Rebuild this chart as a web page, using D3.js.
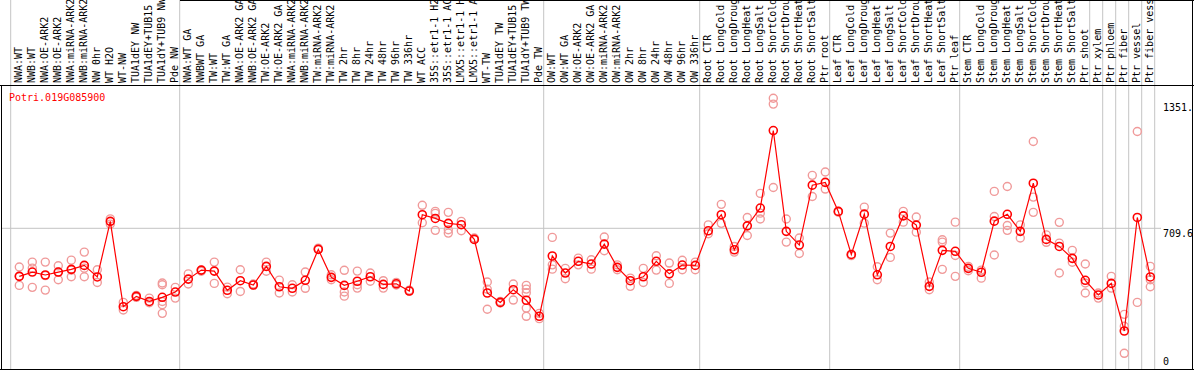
<!DOCTYPE html>
<html>
<head>
<meta charset="utf-8">
<script src="https://cdn.jsdelivr.net/npm/d3@7"></script>
<style>
body { margin: 0; background: #fff; }
text { font-family: "DejaVu Sans Mono", monospace; font-size: 10px; }
</style>
</head>
<body>
<svg width="1194" height="370"></svg>
<script>
var geneName = "Potri.019G085900";

var samples = [
    "NWA:WT", "NWB:WT", "NWA:OE-ARK2", "NWB:OE-ARK2", "NWA:miRNA-ARK2", "NWB:miRNA-ARK2",
    "NW 0hr", "WT H2O", "WT-NW", "TUA1dEY NW", "TUA1dEY+TUB15", "TUA1dY+TUB9 NW", "Pde NW",
    "NWA:WT GA", "NWBWT GA", "TW:WT", "TW:WT GA", "NWA:OE-ARK2 GA", "NWB:OE-ARK2 GA",
    "TW:OE-ARK2", "TW:OE-ARK2 GA", "NWA:miRNA-ARK2", "NWB:miRNA-ARK2", "TW:miRNA-ARK2",
    "TW:miRNA-ARK2", "TW 2hr", "TW 8hr", "TW 24hr", "TW 48hr", "TW 96hr", "TW 336hr",
    "WT ACC", "35S::etr1-1 H2O", "35S::etr1-1 ACC", "LMX5::etr1-1 H2O", "LMX5::etr1-1 ACC",
    "WT-TW", "TUA1dEY TW", "TUA1dEY+TUB15", "TUA1dY+TUB9 TW", "Pde TW",
    "OW:WT", "OW:WT GA", "OW:OE-ARK2", "OW:OE-ARK2 GA", "OW:miRNA-ARK2", "OW:miRNA-ARK2",
    "OW 2hr", "OW 8hr", "OW 24hr", "OW 48hr", "OW 96hr", "OW 336hr",
    "Root CTR", "Root LongCold", "Root LongDrought", "Root LongHeat", "Root LongSalt",
    "Root ShortCold", "Root ShortDrought", "Root ShortHeat", "Root ShortSalt", "Ptr root",
    "Leaf CTR", "Leaf LongCold", "Leaf LongDrought", "Leaf LongHeat", "Leaf LongSalt",
    "Leaf ShortCold", "Leaf ShortDrought", "Leaf ShortHeat", "Leaf ShortSalt", "Ptr leaf",
    "Stem CTR", "Stem LongCold", "Stem LongDrought", "Stem LongHeat", "Stem LongSalt",
    "Stem ShortCold", "Stem ShortDrought", "Stem ShortHeat", "Stem ShortSalt", "Ptr shoot",
    "Ptr xylem", "Ptr phloem", "Ptr fiber", "Ptr vessel", "Ptr fiber vessel"
];

// mean expression per sample
var means = [
    464, 486, 471, 486, 500, 520, 461, 745, 309, 362, 336, 357, 384,
    450, 496, 491, 393, 442, 420, 515, 411, 403, 444, 602, 459, 418, 439, 462, 423, 426, 389,
    779, 760, 735, 728, 653, 379, 331, 396, 342, 260,
    568, 481, 541, 527, 629, 510, 442, 462, 541, 477, 522, 520,
    697, 779, 600, 722, 813, 1209, 694, 624, 930, 944,
    796, 576, 782, 472, 617, 773, 726, 413, 597, 592,
    505, 485, 746, 781, 694, 940, 653, 617, 556, 444,
    369, 428, 185, 765, 461
];

// replicate values per sample
var reps = [
    [512, 418, 465], [537, 506, 408], [537, 468, 394], [518, 447, 486], [547, 462, 496],
    [588, 506, 462], [498, 433], [758, 731], [331, 292], [367, 357], [353, 329],
    [430, 421, 336, 319, 275], [408, 353],
    [477, 425], [496, 490], [537, 428], [409, 375], [498, 387], [420, 425], [537, 490],
    [445, 379], [421, 384], [486, 403], [602, 608], [472, 447], [495, 384, 363],
    [491, 421, 404], [481, 439], [442, 404], [433, 420], [389, 394],
    [827, 738], [796, 786, 699], [791, 702, 685], [745, 697], [653, 660],
    [435, 398, 296], [336, 328], [425, 343], [418, 399, 380, 302, 260], [275, 248],
    [663, 523, 501], [505, 452], [557, 523], [549, 501], [665, 595], [523, 498],
    [455, 413], [505, 433], [569, 496], [532, 428], [546, 498], [537, 498],
    [727, 682], [832, 735], [617, 588], [765, 673], [888, 787, 757],
    [1374, 1344, 918], [757, 639], [660, 581], [980, 872], [997, 910],
    [796, 792], [576, 570], [818, 736], [513, 447], [685, 561],
    [796, 741], [767, 690], [435, 396], [651, 639, 500], [741, 571, 464],
    [515, 493], [455, 496], [898, 770, 573], [923, 724, 699], [727, 660],
    [1153, 869, 791], [676, 638], [740, 634, 481], [597, 536], [527, 430, 379],
    [379, 353], [464, 404], [270, 209, 71], [1204, 331], [515, 447, 411]
];

// column index where each sample group starts
var headerBreaks = [0, 13, 41, 53, 63, 73, 83, 84, 85, 86, 87, 88];
var plotBreaks = [0, 13, 41, 53, 63, 73, 84, 85, 86, 87, 88];

var tickValues = [0, 709.6, 1351.2];
var tickLabels = ["0", "709.6", "1351."];

var svg = d3.select("svg"),
    W = +svg.attr("width"),
    H = +svg.attr("height"),
    headerH = 85,
    bottom = 369;

var idx = d3.range(samples.length);
var x = d3.scaleBand().domain(idx).range([10.7, 10.7 + 13 * samples.length]);
var xEdge = function(k) { return 10.7 + k * x.step(); };
var px = function(i) { return x(i) + 8.6; };

var y = d3.scaleLinear().domain([0, 709.6]).range([367.2, 228.3]);

// header separators
svg.append("g").selectAll("line")
    .data(headerBreaks).enter().append("line")
    .attr("x1", xEdge).attr("x2", xEdge)
    .attr("y1", 0).attr("y2", headerH)
    .attr("stroke", "#c4c4c4");

// plot separators
svg.append("g").selectAll("line")
    .data(plotBreaks).enter().append("line")
    .attr("x1", xEdge).attr("x2", xEdge)
    .attr("y1", headerH).attr("y2", bottom)
    .attr("stroke", "#c4c4c4");

// horizontal grid at middle tick
svg.append("line")
    .attr("x1", 2).attr("x2", 1161)
    .attr("y1", y(tickValues[1])).attr("y2", y(tickValues[1]))
    .attr("stroke", "#c4c4c4");

// sample labels, rotated
svg.append("g").selectAll("text")
    .data(samples).enter().append("text")
    .attr("transform", function(d, i) {
        return "translate(" + (xEdge(i) + 11.5) + ",83) rotate(-90)";
    })
    .attr("fill", "#000")
    .text(function(d) { return d; });

// borders
svg.append("line").attr("x1", 0).attr("x2", W).attr("y1", headerH + 0.5).attr("y2", headerH + 0.5).attr("stroke", "#000");
svg.append("line").attr("x1", 180).attr("x2", W).attr("y1", 0.5).attr("y2", 0.5).attr("stroke", "#000");
svg.append("line").attr("x1", 0).attr("x2", W).attr("y1", bottom + 0.5).attr("y2", bottom + 0.5).attr("stroke", "#000");
svg.append("line").attr("x1", 1.5).attr("x2", 1.5).attr("y1", headerH).attr("y2", H).attr("stroke", "#000");
svg.append("line").attr("x1", W - 1.5).attr("x2", W - 1.5).attr("y1", 0).attr("y2", H).attr("stroke", "#000");

// y axis on the right
var yAxis = svg.append("g")
    .attr("transform", "translate(1160,0)")
    .call(d3.axisRight(y).tickValues(tickValues).tickSize(0)
        .tickFormat(function(d, i) { return tickLabels[i]; }));
yAxis.select(".domain").remove();
yAxis.selectAll("text")
    .attr("x", 3)
    .attr("dy", function(d) { return d == 0 ? "-0.25em" : "0.8em"; })
    .attr("fill", "#000")
    .style("font-family", "\"DejaVu Sans Mono\", monospace")
    .style("font-size", "10px");

// replicates
var repPts = [];
reps.forEach(function(r, i) {
    r.forEach(function(v) { repPts.push({i: i, v: v}); });
});
svg.append("g").selectAll("circle")
    .data(repPts).enter().append("circle")
    .attr("cx", function(d) { return px(d.i); })
    .attr("cy", function(d) { return y(d.v); })
    .attr("r", 4)
    .attr("fill", "none")
    .attr("stroke", "#f09a9a")
    .attr("stroke-width", 1.4);

// mean line
var line = d3.line()
    .x(function(d, i) { return px(i); })
    .y(function(d) { return y(d); });
svg.append("path")
    .datum(means)
    .attr("d", line)
    .attr("fill", "none")
    .attr("stroke", "#f00")
    .attr("stroke-width", 1.2);

svg.append("g").selectAll("circle")
    .data(means).enter().append("circle")
    .attr("cx", function(d, i) { return px(i); })
    .attr("cy", function(d) { return y(d); })
    .attr("r", 4)
    .attr("fill", "none")
    .attr("stroke", "#f00")
    .attr("stroke-width", 1.6);

// gene name
svg.append("text")
    .attr("x", 9)
    .attr("y", 100.5)
    .attr("fill", "#f00")
    .text(geneName);
</script>
</body>
</html>
